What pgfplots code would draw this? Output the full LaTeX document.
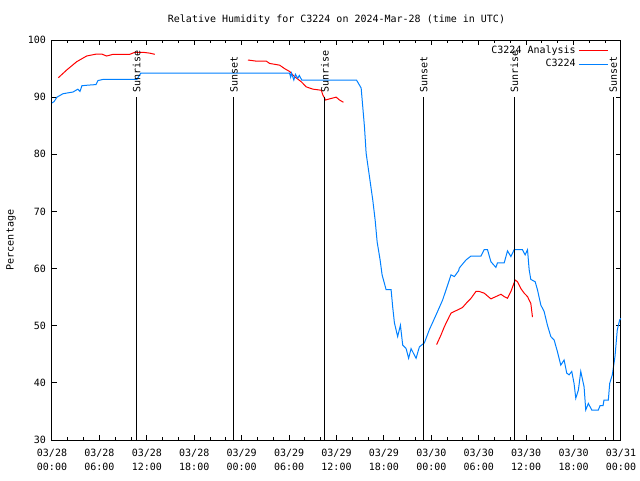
\documentclass[border=0pt]{standalone}
\usepackage{pgfplots}
\pgfplotsset{compat=1.18}
\usepackage{fontspec}
\setmainfont{DejaVu Sans Mono}
\setmonofont{DejaVu Sans Mono}
\definecolor{ared}{RGB}{255,0,0}
\definecolor{cblue}{RGB}{0,128,255}
\begin{document}
\begin{tikzpicture}[x=1pt,y=1pt]
\useasboundingbox (0,0) rectangle (480,360);
\begin{axis}[
  at={(39pt,30pt)}, anchor=south west,
  scale only axis, width=426.75pt, height=300pt,
  xmin=0, xmax=72, ymin=30, ymax=100,
  xtick={0,6,...,72},
  xticklabels={03/28\\00:00,03/28\\06:00,03/28\\12:00,03/28\\18:00,03/29\\00:00,03/29\\06:00,03/29\\12:00,03/29\\18:00,03/30\\00:00,03/30\\06:00,03/30\\12:00,03/30\\18:00,03/31\\00:00},
  xticklabel style={align=center, font=\fontsize{7.5}{11}\selectfont, yshift=-3pt},
  minor x tick num=2,
  ytick={30,40,...,100},
  yticklabel style={font=\fontsize{7.5}{9}\selectfont, xshift=-1pt},
  /pgf/number format/assume math mode=true,
  tick align=inside, xtick pos=both, ytick pos=both,
  major tick length=3.5pt, minor tick length=2.5pt,
  xtick style={black, line width=0.75pt},
  ytick style={black, line width=0.75pt},
  minor tick style={black, line width=0.75pt},
  axis line style={black, line width=0.75pt},
  ylabel={Percentage},
  ylabel style={font=\fontsize{7.5}{9}\selectfont, at={(axis description cs:-0.072,0.5)}, anchor=center},
  title={Relative Humidity for C3224 on 2024-Mar-28 (time in UTC)},
  title style={font=\fontsize{7.5}{9}\selectfont, at={(0.5,1)}, anchor=center, yshift=9.5pt},
  legend style={at={(1,1)}, anchor=north east, xshift=-6pt, yshift=0pt, draw=none, fill=none,
    font=\fontsize{7.5}{9}\selectfont, row sep=-0.8pt},
  legend cell align=right,
  legend plot pos=right,
  legend image code/.code={\draw[#1] (0pt,0pt) -- (22pt,0pt);},
  unbounded coords=jump,
]
\addplot[ared, line width=0.75pt] coordinates {
(0.80,93.4) (1.86,94.75) (3.12,96.2) (4.38,97.2) (5.65,97.55) (6.28,97.55) (6.91,97.2) (7.74,97.5) (9.85,97.5) (10.48,97.85) (11.53,97.85) (12.38,97.7) (13.01,97.5)
(18,nan)
(24.80,96.5) (25.86,96.3) (27.12,96.3) (27.54,95.9) (28.80,95.6) (29.43,95.0) (30.06,94.5) (30.69,93.6) (31.54,92.7) (32.17,91.8) (33.01,91.4) (33.85,91.25) (34.07,91.25) (34.27,90.4) (34.61,89.5) (35.12,89.7) (35.96,90.0) (36.38,89.5) (36.88,89.1)
(42,nan)
(48.67,46.7) (49.23,48.4) (49.64,49.8) (50.27,51.6) (50.49,52.2) (50.91,52.5) (51.32,52.75) (51.95,53.2) (52.59,54.2) (53.02,54.8) (53.65,56.0) (54.06,56.0) (54.69,55.7) (55.54,54.7) (56.17,55.1) (56.81,55.5) (57.22,55.1) (57.64,54.8) (58.07,56.0) (58.61,58.0) (58.90,57.7) (59.33,56.5) (59.75,55.7) (60.17,55.1) (60.59,53.9) (60.80,51.5)
};
\addlegendentry{C3224 Analysis}
\addplot[cblue, line width=0.75pt] coordinates {
(0,89.0) (0.25,89.2) (0.63,90.0) (1.39,90.6) (2.65,90.9) (3.28,91.4) (3.54,91.0) (3.79,92.0) (4.55,92.1) (5.56,92.2) (5.81,92.9) (6.44,93.1) (10.74,93.1) (11.24,94.2) (30.06,94.2)
(30.2,93.5) (30.3,94.2) (30.6,93.0) (30.8,94.0) (31.1,93.3) (31.3,93.8) (31.6,93.0) (31.96,93.0) (38.53,93.0)
(39.12,91.6) (39.54,84.8) (39.75,80.2) (40.17,76.1) (40.59,72.0) (40.89,68.5) (41.14,64.7) (41.52,61.5) (41.77,58.9) (42.28,56.3) (42.91,56.3) (43.11,53.3) (43.33,50.5) (43.74,48.1) (44.09,50.1) (44.38,46.6) (44.81,46.0) (45.13,44.3) (45.44,46.0) (45.73,45.2) (46.07,44.3) (46.49,46.3) (47.12,47.0) (47.75,49.3) (48.60,51.9) (49.43,54.5) (50.06,57.1) (50.49,58.9) (50.91,58.6) (51.45,59.6) (51.54,60.1) (52.38,61.5) (53.02,62.2) (54.28,62.2) (54.69,63.3) (55.11,63.3) (55.54,61.2) (56.17,60.2) (56.37,61.0) (57.22,61.0) (57.64,63.1) (58.07,62.1) (58.48,63.3) (59.53,63.3) (59.87,62.4) (60.17,63.3) (60.38,59.8) (60.59,58.1) (61.14,57.7) (61.43,56.3) (61.86,53.6) (62.27,52.5) (62.69,50.1) (63.12,48.1) (63.54,47.5) (63.95,45.5) (64.38,43.1) (64.80,44.0) (65.14,41.7) (65.43,41.4) (65.77,42.0) (66.06,39.9) (66.28,37.3) (66.61,38.75) (66.91,42.0) (67.33,39.3) (67.54,35.25) (67.87,36.4) (68.30,35.25) (69.13,35.25) (69.35,36.0) (69.73,36.0) (69.85,37.0) (70.40,37.0) (70.57,39.9) (70.90,41.4) (71.24,44.6) (71.53,49.25) (71.83,51.0) (72.0,51.3)
};
\addlegendentry{C3224}
\addplot[black, line width=0.75pt, forget plot] coordinates {(10.70,30) (10.70,90)};
\addplot[black, line width=0.75pt, forget plot] coordinates {(23.03,30) (23.03,90)};
\addplot[black, line width=0.75pt, forget plot] coordinates {(34.52,30) (34.52,90)};
\addplot[black, line width=0.75pt, forget plot] coordinates {(47.03,30) (47.03,90)};
\addplot[black, line width=0.75pt, forget plot] coordinates {(58.52,30) (58.52,90)};
\addplot[black, line width=0.75pt, forget plot] coordinates {(71.03,30) (71.03,90)};
\begin{scope}[every node/.style={rotate=90, anchor=west, font=\fontsize{7.5}{9}\selectfont, inner sep=1.5pt}]
\node at (axis cs:10.70,90.4) {Sunrise};
\node at (axis cs:23.03,90.4) {Sunset};
\node at (axis cs:34.52,90.4) {Sunrise};
\node at (axis cs:47.03,90.4) {Sunset};
\node at (axis cs:58.52,90.4) {Sunrise};
\node at (axis cs:71.03,90.4) {Sunset};
\end{scope}
\end{axis}
\end{tikzpicture}
\end{document}
